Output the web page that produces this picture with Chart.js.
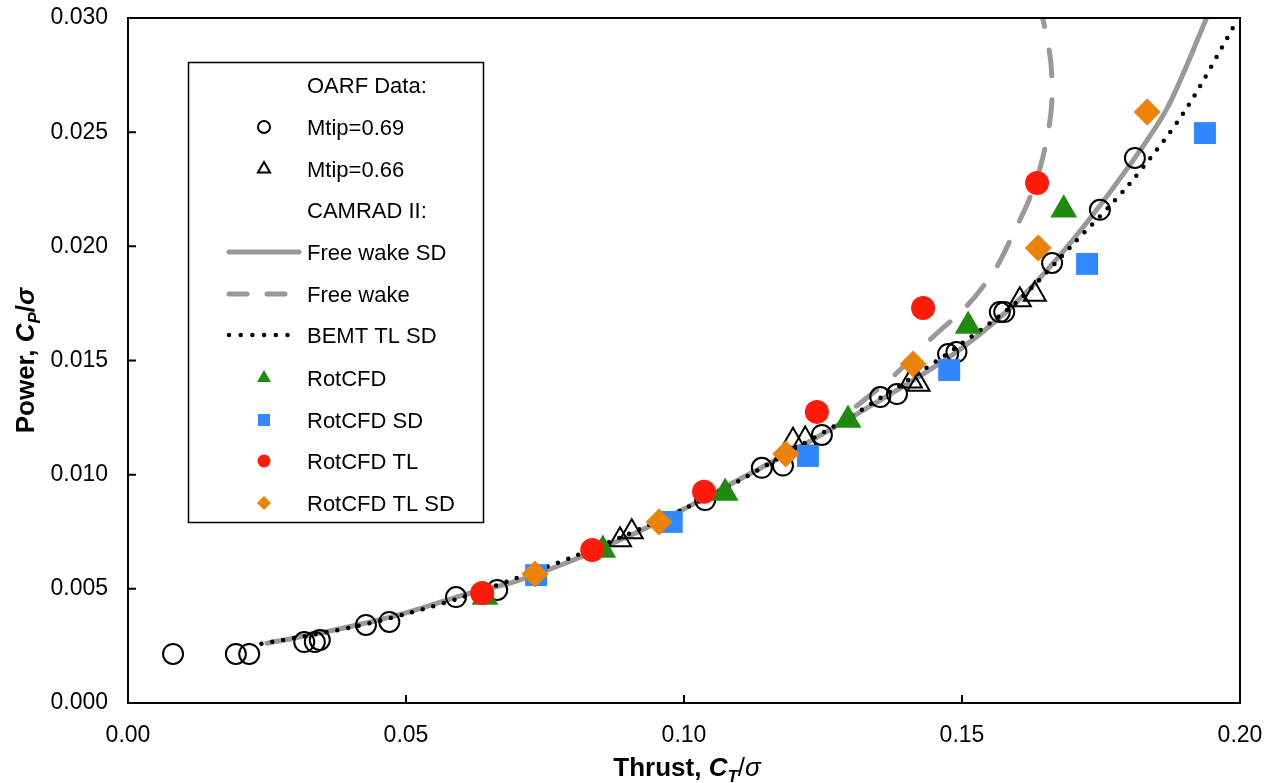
<!DOCTYPE html>
<html>
<head>
<meta charset="utf-8">
<script src="https://cdn.jsdelivr.net/npm/chart.js@4.4.0/dist/chart.umd.min.js"></script>
<style>
  html, body { margin: 0; padding: 0; background: #fff; overflow: hidden; }
</style>
</head>
<body>
<canvas id="chart" width="1276" height="783"></canvas>
<script>
// ---- data ----
const xTickVals = [0, 0.05, 0.10, 0.15, 0.20];
const yTickVals = [0, 0.005, 0.010, 0.015, 0.020, 0.025, 0.030];

// OARF test data
const oarf69T = [0.0081, 0.0194, 0.0218, 0.0317, 0.0336, 0.0345, 0.0428, 0.0470, 0.0590, 0.0664,
                 0.1038, 0.1140, 0.1178, 0.1248, 0.1353, 0.1383, 0.1475, 0.1490, 0.1568, 0.1576,
                 0.1662, 0.1748, 0.1811];
const oarf69P = [0.00215, 0.00215, 0.00215, 0.00267, 0.00267, 0.00276, 0.00342, 0.00355, 0.00464, 0.00495,
                 0.00889, 0.01030, 0.01040, 0.01174, 0.01340, 0.01353, 0.01528, 0.01537, 0.01712, 0.01712,
                 0.01927, 0.02160, 0.02387];
const oarf66T = [0.0885, 0.0906, 0.1196, 0.1218, 0.1408, 0.1422, 0.1604, 0.1631];
const oarf66P = [0.00714, 0.00749, 0.01150, 0.01155, 0.01410, 0.01395, 0.01765, 0.01790];

// RotCFD runs
const rotcfdT     = [0.0642, 0.0854, 0.1074, 0.1295, 0.1511, 0.1683];
const rotcfdP     = [0.00464, 0.00670, 0.00920, 0.01239, 0.01651, 0.02160];
const rotcfdSdT   = [0.0734, 0.0978, 0.1223, 0.1477, 0.1725, 0.1937];
const rotcfdSdP   = [0.00560, 0.00793, 0.01082, 0.01458, 0.01923, 0.02496];
const rotcfdTlT   = [0.0637, 0.0835, 0.1036, 0.1239, 0.1430, 0.1635];
const rotcfdTlP   = [0.00482, 0.00670, 0.00925, 0.01275, 0.01730, 0.02277];
const rotcfdTlSdT = [0.0732, 0.0955, 0.1183, 0.1412, 0.1637, 0.1833];
const rotcfdTlSdP = [0.00565, 0.00793, 0.01090, 0.01485, 0.01993, 0.02588];

// CAMRAD II curves
const fwSdT = [0.025, 0.03, 0.04, 0.05, 0.06, 0.07, 0.08, 0.09, 0.10, 0.11, 0.12, 0.13, 0.14, 0.15, 0.16, 0.17, 0.18, 0.187, 0.194];
const fwSdP = [0.00262, 0.00285, 0.00335, 0.00395, 0.00470, 0.00535, 0.00625, 0.00730, 0.00850, 0.00980,
               0.01110, 0.01250, 0.01395, 0.01555, 0.01760, 0.02030, 0.02350, 0.02610, 0.03000];
const fwT = [0.131, 0.1376, 0.1442, 0.1509, 0.1560, 0.1595, 0.1620, 0.1640, 0.1655, 0.1662, 0.1660, 0.1653, 0.1645];
const fwP = [0.0130, 0.0143, 0.0159, 0.0174, 0.0190, 0.0207, 0.0220, 0.0234, 0.0250, 0.0265, 0.0280, 0.0291, 0.0300];
const bemtT = [0.024, 0.03, 0.04, 0.05, 0.06, 0.07, 0.08, 0.09, 0.10, 0.11, 0.12, 0.13, 0.14, 0.15, 0.16, 0.17, 0.18, 0.19, 0.1995];
const bemtP = [0.00260, 0.00285, 0.00330, 0.00390, 0.00462, 0.00548, 0.00640, 0.00740, 0.00850, 0.00975,
               0.01115, 0.01255, 0.01410, 0.01575, 0.01760, 0.02010, 0.02270, 0.02590, 0.02990];

const legendLabels = ['OARF Data:', 'Mtip=0.69', 'Mtip=0.66', 'CAMRAD II:', 'Free wake SD', 'Free wake',
                      'BEMT TL SD', 'RotCFD', 'RotCFD SD', 'RotCFD TL', 'RotCFD TL SD'];

const FONT = "'Liberation Sans', Arial, Helvetica, sans-serif";
const GREEN = '#1f8b0e', BLUE = '#2f88ff', RED = '#ff1a0a', ORANGE = '#ec8207', GRAY = '#999999';

const pts = (xs, ys) => xs.map((x, i) => ({ x, y: ys[i] }));

// frame, inward tick marks, axis titles and the boxed legend
const decor = {
  id: 'decor',
  afterDraw(chart) {
    const { ctx, chartArea: a, scales: { x, y } } = chart;
    ctx.save();
    ctx.strokeStyle = '#000';
    ctx.lineWidth = 2;
    ctx.strokeRect(a.left, a.top, a.right - a.left, a.bottom - a.top);
    ctx.beginPath();
    xTickVals.forEach(v => { const px = x.getPixelForValue(v); ctx.moveTo(px, a.bottom); ctx.lineTo(px, a.bottom - 8); });
    yTickVals.forEach(v => { const py = y.getPixelForValue(v); ctx.moveTo(a.left, py); ctx.lineTo(a.left + 8, py); });
    ctx.stroke();

    // axis titles with subscripts
    const drawRich = (parts, cx, base) => {
      let w = 0;
      parts.forEach(p => { ctx.font = p.f; w += ctx.measureText(p.t).width; });
      let xx = cx - w / 2;
      ctx.fillStyle = '#000';
      ctx.textBaseline = 'alphabetic';
      ctx.textAlign = 'left';
      parts.forEach(p => { ctx.font = p.f; ctx.fillText(p.t, xx, base + (p.dy || 0)); xx += ctx.measureText(p.t).width; });
    };
    const B = 'bold 26px ' + FONT, BI = 'italic bold 26px ' + FONT, SUB = 'italic bold 17px ' + FONT;
    drawRich([{ t: 'Thrust, ', f: B }, { t: 'C', f: BI }, { t: 'T', f: SUB, dy: 6 },
              { t: '/', f: '26px ' + FONT }, { t: 'σ', f: 'italic 26px ' + FONT }],
             (a.left + a.right) / 2 + 3, 776);
    ctx.save();
    ctx.translate(34, (a.top + a.bottom) / 2);
    ctx.rotate(-Math.PI / 2);
    drawRich([{ t: 'Power, ', f: B }, { t: 'C', f: BI }, { t: 'P', f: SUB, dy: 6 },
              { t: '/', f: B }, { t: 'σ', f: BI }], 0, 0);
    ctx.restore();

    // legend box
    ctx.fillStyle = '#fff';
    ctx.fillRect(188, 62, 296, 461);
    ctx.lineWidth = 1.5;
    ctx.strokeStyle = '#000';
    ctx.strokeRect(188.5, 62.5, 295, 460);
    const base = [93, 135, 177, 218, 260, 302, 343, 386, 428, 469, 511];
    const sym = [
      null,
      { style: 'circle', r: 6, fill: 'rgba(0,0,0,0)', stroke: '#000', bw: 2 },
      { style: 'triangle', r: 7, fill: 'rgba(0,0,0,0)', stroke: '#000', bw: 2 },
      null,
      { line: [], w: 5, c: GRAY, cap: 'round' },
      { line: [18, 20], w: 5, c: GRAY, cap: 'round' },
      { line: [0, 11.7], w: 4.5, c: '#000', cap: 'round' },
      { style: 'triangle', r: 8, fill: GREEN, stroke: GREEN, bw: 0 },
      { style: 'rect', r: 8.5, fill: BLUE, stroke: BLUE, bw: 0 },
      { style: 'circle', r: 6.5, fill: RED, stroke: RED, bw: 0 },
      { style: 'rectRot', r: 7, fill: ORANGE, stroke: ORANGE, bw: 0 }
    ];
    legendLabels.forEach((lab, i) => {
      const cy = base[i] - 8;
      const s = sym[i];
      if (s && s.line) {
        ctx.save();
        ctx.strokeStyle = s.c;
        ctx.lineWidth = s.w;
        ctx.lineCap = s.cap;
        ctx.setLineDash(s.line);
        ctx.beginPath();
        ctx.moveTo(229, cy);
        ctx.lineTo(299, cy);
        ctx.stroke();
        ctx.restore();
      } else if (s) {
        ctx.save();
        ctx.fillStyle = s.fill;
        ctx.strokeStyle = s.stroke;
        ctx.lineWidth = s.bw;
        Chart.helpers.drawPoint(ctx, { pointStyle: s.style, radius: s.r, borderWidth: s.bw, rotation: 0 }, 264, cy);
        ctx.restore();
      }
      ctx.fillStyle = '#000';
      ctx.font = '22px ' + FONT;
      ctx.textAlign = 'left';
      ctx.textBaseline = 'alphabetic';
      ctx.fillText(lab, 307, base[i]);
    });
    ctx.restore();
  }
};

const marker = (label, xs, ys, style, r, fill, stroke, bw, order) => ({
  label, data: pts(xs, ys), order,
  pointStyle: style, pointRadius: r, pointHoverRadius: r,
  pointBackgroundColor: fill, pointBorderColor: stroke, pointBorderWidth: bw,
  showLine: false
});
const curve = (label, xs, ys, color, width, dash, order) => ({
  label, data: pts(xs, ys), order,
  showLine: true, pointRadius: 0, borderColor: color, borderWidth: width,
  borderDash: dash, borderCapStyle: 'round', tension: 0.3, fill: false
});

new Chart(document.getElementById('chart'), {
  type: 'scatter',
  data: {
    datasets: [
      marker('RotCFD TL', rotcfdTlT, rotcfdTlP, 'circle', 12, RED, RED, 0, 1),
      marker('RotCFD TL SD', rotcfdTlSdT, rotcfdTlSdP, 'rectRot', 13.5, ORANGE, ORANGE, 0, 2),
      marker('RotCFD', rotcfdT, rotcfdP, 'triangle', 15.5, GREEN, GREEN, 0, 3),
      marker('RotCFD SD', rotcfdSdT, rotcfdSdP, 'rect', 15.5, BLUE, BLUE, 0, 4),
      curve('BEMT TL SD', bemtT, bemtP, '#000', 4.5, [0, 11], 5),
      marker('Mtip=0.69', oarf69T, oarf69P, 'circle', 10, 'rgba(0,0,0,0)', '#000', 2, 6),
      marker('Mtip=0.66', oarf66T, oarf66P, 'triangle', 12.7, 'rgba(0,0,0,0)', '#000', 2, 7),
      curve('Free wake', fwT, fwP, GRAY, 5, [26, 24], 8),
      curve('Free wake SD', fwSdT, fwSdP, GRAY, 5, [], 9)
    ]
  },
  options: {
    responsive: false,
    animation: false,
    events: [],
    layout: { padding: { top: 18, right: 36, left: 0, bottom: 0 } },
    plugins: { legend: { display: false }, tooltip: { enabled: false } },
    scales: {
      x: {
        type: 'linear', min: 0, max: 0.2,
        afterBuildTicks: s => { s.ticks = xTickVals.map(v => ({ value: v })); },
        afterFit: s => { s.height = 80; s.paddingLeft = 0; s.paddingRight = 0; },
        ticks: { callback: v => Number(v).toFixed(2), color: '#000', font: { family: FONT, size: 23 }, padding: 19, maxRotation: 0, autoSkip: false },
        grid: { display: false, drawTicks: false },
        border: { display: false }
      },
      y: {
        type: 'linear', min: 0, max: 0.03,
        afterBuildTicks: s => { s.ticks = yTickVals.map(v => ({ value: v })); },
        afterFit: s => { s.width = 128; s.paddingTop = 0; s.paddingBottom = 0; },
        ticks: { callback: v => Number(v).toFixed(3), color: '#000', font: { family: FONT, size: 23 }, padding: 20, autoSkip: false },
        grid: { display: false, drawTicks: false },
        border: { display: false }
      }
    }
  },
  plugins: [decor]
});
</script>
</body>
</html>
